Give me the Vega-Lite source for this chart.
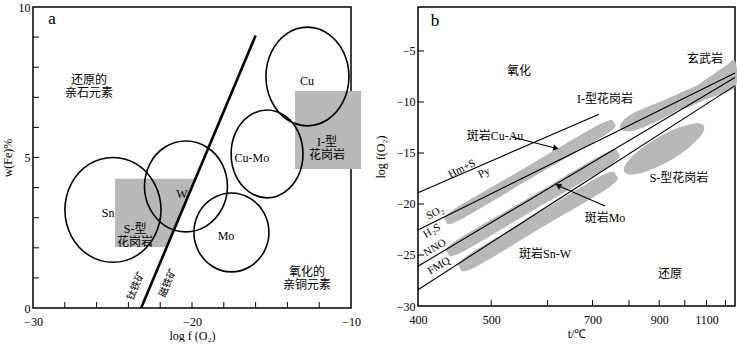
{
  "$schema": "https://vega.github.io/schema/vega-lite/v6.json",
  "background": "white",
  "padding": {"left": 0, "top": 0, "right": 0, "bottom": 0},
  "spacing": 11,
  "config": {
    "font": "Liberation Serif",
    "view": {"stroke": "black", "strokeWidth": 1.5},
    "axis": {
      "domain": false, "grid": false, "ticks": false,
      "labelPadding": 3, "labelOverlap": false, "labelBound": false, "labelFlush": false,
      "labelFont": "Liberation Serif", "labelFontSize": 12, "labelColor": "black",
      "titleFont": "Liberation Serif", "titleFontSize": 12, "titleFontWeight": "normal", "titleColor": "black"
    },
    "text": {"font": "Liberation Serif, Noto Sans CJK SC", "fontSize": 12, "color": "black", "lineBreak": "\n", "lineHeight": 13}
  },
  "hconcat": [
    {
      "width": 318, "height": 301,
      "layer": [
        {
          "data": {"values": [{"x": -13.52, "x2": -9.37, "y": 4.62, "y2": 7.21}]},
          "mark": {"type": "rect", "color": "#b8b8b8"},
          "encoding": {
            "x": {"field": "x", "type": "quantitative", "scale": {"domain": [-30, -10], "nice": false, "zero": false},
                  "axis": {"title": "log f (O₂)", "values": [-30, -20, -10], "labelPadding": 8, "titlePadding": 3}},
            "x2": {"field": "x2"},
            "y": {"field": "y", "type": "quantitative", "scale": {"domain": [0, 10], "nice": false, "zero": false},
                  "axis": {"title": "w(Fe)%", "values": [0, 5, 10], "titlePadding": 4}},
            "y2": {"field": "y2"}
          }
        },
        {
          "data": {"values": [{"y": 2.03, "x": -24.84, "x2": -21.57}, {"y": 4.29, "x": -24.84, "x2": -19.81}]},
          "mark": {"type": "area", "orient": "horizontal", "color": "#b8b8b8"},
          "encoding": {"y": {"field": "y", "type": "quantitative"}, "x": {"field": "x", "type": "quantitative"}, "x2": {"field": "x2"}}
        },
        {
          "data": {"values": [{"x": -28, "y": 0}, {"x": -26, "y": 0}, {"x": -24, "y": 0}, {"x": -22, "y": 0}, {"x": -20, "y": 0}, {"x": -18, "y": 0}, {"x": -16, "y": 0}, {"x": -14, "y": 0}, {"x": -12, "y": 0}]},
          "mark": {"type": "tick", "orient": "vertical", "size": 6, "thickness": 1, "yOffset": -3, "color": "black", "opacity": 1},
          "encoding": {"x": {"field": "x", "type": "quantitative"}, "y": {"field": "y", "type": "quantitative"}}
        },
        {
          "data": {"values": [{"x": -30, "y": 1}, {"x": -30, "y": 2}, {"x": -30, "y": 3}, {"x": -30, "y": 4}, {"x": -30, "y": 5}, {"x": -30, "y": 6}, {"x": -30, "y": 7}, {"x": -30, "y": 8}, {"x": -30, "y": 9}]},
          "mark": {"type": "tick", "orient": "horizontal", "size": 6, "thickness": 1, "xOffset": 3, "color": "black", "opacity": 1},
          "encoding": {"x": {"field": "x", "type": "quantitative"}, "y": {"field": "y", "type": "quantitative"}}
        },
        {
          "data": {"values": [
            {"name": "Sn", "i": 0, "x": -21.95, "y": 3.26}, {"name": "Sn", "i": 1, "x": -22.36, "y": 4.13}, {"name": "Sn", "i": 2, "x": -23.46, "y": 4.77}, {"name": "Sn", "i": 3, "x": -24.97, "y": 5.00}, {"name": "Sn", "i": 4, "x": -26.48, "y": 4.77}, {"name": "Sn", "i": 5, "x": -27.59, "y": 4.13}, {"name": "Sn", "i": 6, "x": -27.99, "y": 3.26}, {"name": "Sn", "i": 7, "x": -27.59, "y": 2.39}, {"name": "Sn", "i": 8, "x": -26.48, "y": 1.75}, {"name": "Sn", "i": 9, "x": -24.97, "y": 1.52}, {"name": "Sn", "i": 10, "x": -23.46, "y": 1.75}, {"name": "Sn", "i": 11, "x": -22.36, "y": 2.39},
            {"name": "W", "i": 0, "x": -17.77, "y": 4.04}, {"name": "W", "i": 1, "x": -18.12, "y": 4.80}, {"name": "W", "i": 2, "x": -19.08, "y": 5.35}, {"name": "W", "i": 3, "x": -20.38, "y": 5.55}, {"name": "W", "i": 4, "x": -21.69, "y": 5.35}, {"name": "W", "i": 5, "x": -22.64, "y": 4.80}, {"name": "W", "i": 6, "x": -22.99, "y": 4.04}, {"name": "W", "i": 7, "x": -22.64, "y": 3.29}, {"name": "W", "i": 8, "x": -21.69, "y": 2.73}, {"name": "W", "i": 9, "x": -20.38, "y": 2.53}, {"name": "W", "i": 10, "x": -19.08, "y": 2.73}, {"name": "W", "i": 11, "x": -18.12, "y": 3.29},
            {"name": "Mo", "i": 0, "x": -15.16, "y": 2.51}, {"name": "Mo", "i": 1, "x": -15.48, "y": 3.17}, {"name": "Mo", "i": 2, "x": -16.34, "y": 3.64}, {"name": "Mo", "i": 3, "x": -17.52, "y": 3.82}, {"name": "Mo", "i": 4, "x": -18.70, "y": 3.64}, {"name": "Mo", "i": 5, "x": -19.56, "y": 3.17}, {"name": "Mo", "i": 6, "x": -19.88, "y": 2.51}, {"name": "Mo", "i": 7, "x": -19.56, "y": 1.86}, {"name": "Mo", "i": 8, "x": -18.70, "y": 1.38}, {"name": "Mo", "i": 9, "x": -17.52, "y": 1.20}, {"name": "Mo", "i": 10, "x": -16.34, "y": 1.38}, {"name": "Mo", "i": 11, "x": -15.48, "y": 1.86},
            {"name": "CuMo", "i": 0, "x": -13.02, "y": 5.12}, {"name": "CuMo", "i": 1, "x": -13.32, "y": 5.85}, {"name": "CuMo", "i": 2, "x": -14.15, "y": 6.38}, {"name": "CuMo", "i": 3, "x": -15.28, "y": 6.58}, {"name": "CuMo", "i": 4, "x": -16.41, "y": 6.38}, {"name": "CuMo", "i": 5, "x": -17.24, "y": 5.85}, {"name": "CuMo", "i": 6, "x": -17.54, "y": 5.12}, {"name": "CuMo", "i": 7, "x": -17.24, "y": 4.39}, {"name": "CuMo", "i": 8, "x": -16.41, "y": 3.86}, {"name": "CuMo", "i": 9, "x": -15.28, "y": 3.66}, {"name": "CuMo", "i": 10, "x": -14.15, "y": 3.86}, {"name": "CuMo", "i": 11, "x": -13.32, "y": 4.39},
            {"name": "Cu", "i": 0, "x": -10.13, "y": 7.69}, {"name": "Cu", "i": 1, "x": -10.48, "y": 8.51}, {"name": "Cu", "i": 2, "x": -11.44, "y": 9.11}, {"name": "Cu", "i": 3, "x": -12.74, "y": 9.33}, {"name": "Cu", "i": 4, "x": -14.05, "y": 9.11}, {"name": "Cu", "i": 5, "x": -15.00, "y": 8.51}, {"name": "Cu", "i": 6, "x": -15.35, "y": 7.69}, {"name": "Cu", "i": 7, "x": -15.00, "y": 6.87}, {"name": "Cu", "i": 8, "x": -14.05, "y": 6.27}, {"name": "Cu", "i": 9, "x": -12.74, "y": 6.05}, {"name": "Cu", "i": 10, "x": -11.44, "y": 6.27}, {"name": "Cu", "i": 11, "x": -10.48, "y": 6.87}
          ]},
          "mark": {"type": "line", "interpolate": "cardinal-closed", "color": "black", "strokeWidth": 1.6},
          "encoding": {"x": {"field": "x", "type": "quantitative"}, "y": {"field": "y", "type": "quantitative"}, "detail": {"field": "name"}, "order": {"field": "i", "type": "quantitative"}}
        },
        {
          "data": {"values": [{"x": -23.2, "y": 0}, {"x": -16.0, "y": 9.05}]},
          "mark": {"type": "line", "color": "black", "strokeWidth": 2.6},
          "encoding": {"x": {"field": "x", "type": "quantitative"}, "y": {"field": "y", "type": "quantitative"}}
        },
        {
          "data": {"values": [
            {"text": "还原的\n亲石元素", "x": -26.48, "y": 7.57},
            {"text": "Cu", "x": -12.77, "y": 7.54},
            {"text": "I-型\n花岗岩", "x": -11.51, "y": 5.51},
            {"text": "Cu-Mo", "x": -16.23, "y": 4.98},
            {"text": "Sn", "x": -25.28, "y": 3.16},
            {"text": "S-型\n花岗岩", "x": -23.58, "y": 2.62},
            {"text": "W", "x": -20.63, "y": 3.79},
            {"text": "Mo", "x": -17.86, "y": 2.39},
            {"text": "氧化的\n亲铜元素", "x": -12.77, "y": 1.2}
          ]},
          "mark": {"type": "text"},
          "encoding": {"x": {"field": "x", "type": "quantitative"}, "y": {"field": "y", "type": "quantitative"}, "text": {"field": "text"}}
        },
        {
          "data": {"values": [{"text": "钛铁矿", "x": -23.52, "y": 0.73}, {"text": "磁铁矿", "x": -21.51, "y": 0.83}]},
          "mark": {"type": "text", "angle": -67, "fontSize": 10},
          "encoding": {"x": {"field": "x", "type": "quantitative"}, "y": {"field": "y", "type": "quantitative"}, "text": {"field": "text"}}
        },
        {
          "data": {"values": [{"text": "a", "x": -28.8, "y": 9.6}]},
          "mark": {"type": "text", "fontSize": 17},
          "encoding": {"x": {"field": "x", "type": "quantitative"}, "y": {"field": "y", "type": "quantitative"}, "text": {"field": "text"}}
        }
      ]
    },
    {
      "width": 317, "height": 299,
      "layer": [
        {
          "data": {"values": [
            {"name": "CuAu", "i": 0, "T": 708.2, "v": -21.67}, {"name": "CuAu", "i": 1, "T": 718.0, "v": -20.57}, {"name": "CuAu", "i": 2, "T": 833.3, "v": -16.36}, {"name": "CuAu", "i": 3, "T": 992.7, "v": -12.17}, {"name": "CuAu", "i": 4, "T": 1029.7, "v": -12.06}, {"name": "CuAu", "i": 5, "T": 1008.4, "v": -13.19}, {"name": "CuAu", "i": 6, "T": 844.4, "v": -17.38}, {"name": "CuAu", "i": 7, "T": 726.3, "v": -21.59},
            {"name": "Mo", "i": 0, "T": 710.8, "v": -24.80}, {"name": "Mo", "i": 1, "T": 720.2, "v": -23.66}, {"name": "Mo", "i": 2, "T": 838.6, "v": -19.35}, {"name": "Mo", "i": 3, "T": 1003.4, "v": -15.05}, {"name": "Mo", "i": 4, "T": 1040.9, "v": -15.00}, {"name": "Mo", "i": 5, "T": 1021.1, "v": -16.15}, {"name": "Mo", "i": 6, "T": 851.0, "v": -20.45}, {"name": "Mo", "i": 7, "T": 729.3, "v": -24.75},
            {"name": "SnW", "i": 0, "T": 727.1, "v": -26.27}, {"name": "SnW", "i": 1, "T": 736.5, "v": -25.09}, {"name": "SnW", "i": 2, "T": 847.4, "v": -21.13}, {"name": "SnW", "i": 3, "T": 997.6, "v": -17.18}, {"name": "SnW", "i": 4, "T": 1035.3, "v": -17.16}, {"name": "SnW", "i": 5, "T": 1016.8, "v": -18.35}, {"name": "SnW", "i": 6, "T": 861.2, "v": -22.30}, {"name": "SnW", "i": 7, "T": 746.9, "v": -26.26},
            {"name": "IType", "i": 0, "T": 1046.7, "v": -12.45}, {"name": "IType", "i": 1, "T": 1076.2, "v": -11.27}, {"name": "IType", "i": 2, "T": 1183.2, "v": -9.90}, {"name": "IType", "i": 3, "T": 1313.7, "v": -8.53}, {"name": "IType", "i": 4, "T": 1375.4, "v": -8.33}, {"name": "IType", "i": 5, "T": 1341.5, "v": -9.31}, {"name": "IType", "i": 6, "T": 1198.1, "v": -11.47}, {"name": "IType", "i": 7, "T": 1082.3, "v": -12.84},
            {"name": "Basalt", "i": 0, "T": 1213.3, "v": -10.20}, {"name": "Basalt", "i": 1, "T": 1304.7, "v": -8.73}, {"name": "Basalt", "i": 2, "T": 1465.3, "v": -6.57}, {"name": "Basalt", "i": 3, "T": 1530, "v": -5.98}, {"name": "Basalt", "i": 4, "T": 1530, "v": -8.53}, {"name": "Basalt", "i": 5, "T": 1375.4, "v": -9.71}, {"name": "Basalt", "i": 6, "T": 1261.5, "v": -10.69},
            {"name": "SType", "i": 0, "T": 1359.7, "v": -12.34}, {"name": "SType", "i": 1, "T": 1319.2, "v": -12.10}, {"name": "SType", "i": 2, "T": 1246.3, "v": -12.53}, {"name": "SType", "i": 3, "T": 1166.9, "v": -13.51}, {"name": "SType", "i": 4, "T": 1102.7, "v": -14.79}, {"name": "SType", "i": 5, "T": 1065.1, "v": -16.02}, {"name": "SType", "i": 6, "T": 1058.9, "v": -16.87}, {"name": "SType", "i": 7, "T": 1084.8, "v": -17.12}, {"name": "SType", "i": 8, "T": 1139.7, "v": -16.70}, {"name": "SType", "i": 9, "T": 1215.3, "v": -15.71}, {"name": "SType", "i": 10, "T": 1293.7, "v": -14.43}, {"name": "SType", "i": 11, "T": 1350.0, "v": -13.20}
          ]},
          "mark": {"type": "line", "interpolate": "cardinal-closed", "fill": "#b8b8b8", "stroke": null, "strokeWidth": 0},
          "encoding": {
            "x": {"field": "T", "type": "quantitative", "scale": {"type": "pow", "exponent": -1, "domain": [673.15, 1530], "nice": false, "zero": false},
                  "axis": {"title": "t/℃", "values": [673.15, 773.15, 973.15, 1173.15, 1373.15], "labelExpr": "'' + round(datum.value - 273.15)", "labelPadding": 8, "titlePadding": 3}},
            "y": {"field": "v", "type": "quantitative", "scale": {"domain": [-30, -0.69], "nice": false, "zero": false},
                  "axis": {"title": "log f(O₂)", "values": [-30, -25, -20, -15, -10, -5], "titlePadding": 9}},
            "detail": {"field": "name"},
            "order": {"field": "i", "type": "quantitative"}
          }
        },
        {
          "data": {"values": [{"T": 773.15, "v": -30}, {"T": 873.15, "v": -30}, {"T": 973.15, "v": -30}, {"T": 1073.15, "v": -30}, {"T": 1173.15, "v": -30}, {"T": 1273.15, "v": -30}, {"T": 1373.15, "v": -30}, {"T": 1473.15, "v": -30}]},
          "mark": {"type": "tick", "orient": "vertical", "size": 6, "thickness": 1, "yOffset": -3, "color": "black", "opacity": 1},
          "encoding": {"x": {"field": "T", "type": "quantitative"}, "y": {"field": "v", "type": "quantitative"}}
        },
        {
          "data": {"values": [{"T": 673.15, "v": -25}, {"T": 673.15, "v": -20}, {"T": 673.15, "v": -15}, {"T": 673.15, "v": -10}, {"T": 673.15, "v": -5}]},
          "mark": {"type": "tick", "orient": "horizontal", "size": 6, "thickness": 1, "xOffset": 3, "color": "black", "opacity": 1},
          "encoding": {"x": {"field": "T", "type": "quantitative"}, "y": {"field": "v", "type": "quantitative"}}
        },
        {
          "data": {"values": [
            {"name": "Hm", "T": 673.15, "v": -18.9}, {"name": "Hm", "T": 989.6, "v": -11.2},
            {"name": "SO2", "T": 673.15, "v": -22.55}, {"name": "SO2", "T": 1530, "v": -7.15},
            {"name": "NNO", "T": 673.15, "v": -26.1}, {"name": "NNO", "T": 1530, "v": -7.6},
            {"name": "FMQ", "T": 673.15, "v": -28.4}, {"name": "FMQ", "T": 1530, "v": -8.4}
          ]},
          "mark": {"type": "line", "color": "black", "strokeWidth": 1.1},
          "encoding": {"x": {"field": "T", "type": "quantitative"}, "y": {"field": "v", "type": "quantitative"}, "detail": {"field": "name"}}
        },
        {
          "data": {"values": [{"T": 807.2, "v": -13.43, "T2": 888.1, "v2": -14.51}, {"T": 1005.2, "v": -20.20, "T2": 896.4, "v2": -18.24}]},
          "mark": {"type": "rule", "color": "black", "strokeWidth": 1.1},
          "encoding": {"x": {"field": "T", "type": "quantitative"}, "y": {"field": "v", "type": "quantitative"}, "x2": {"field": "T2"}, "y2": {"field": "v2"}}
        },
        {
          "data": {"values": [{"T": 888.1, "v": -14.51}]},
          "mark": {"type": "point", "shape": "triangle", "filled": true, "color": "black", "size": 40, "angle": 103, "opacity": 1},
          "encoding": {"x": {"field": "T", "type": "quantitative"}, "y": {"field": "v", "type": "quantitative"}}
        },
        {
          "data": {"values": [{"T": 896.4, "v": -18.24}]},
          "mark": {"type": "point", "shape": "triangle", "filled": true, "color": "black", "size": 40, "angle": 298, "opacity": 1},
          "encoding": {"x": {"field": "T", "type": "quantitative"}, "y": {"field": "v", "type": "quantitative"}}
        },
        {
          "data": {"values": [
            {"text": "氧化", "T": 819.3, "v": -6.96},
            {"text": "玄武岩", "T": 1365.5, "v": -5.78},
            {"text": "I-型花岗岩", "T": 1005.2, "v": -9.71},
            {"text": "斑岩Cu-Au", "T": 779.1, "v": -13.33},
            {"text": "斑岩Mo", "T": 1005.2, "v": -21.37},
            {"text": "S-型花岗岩", "T": 1249.1, "v": -17.45},
            {"text": "斑岩Sn-W", "T": 867.9, "v": -24.90},
            {"text": "还原", "T": 1213.3, "v": -26.86}
          ]},
          "mark": {"type": "text"},
          "encoding": {"x": {"field": "T", "type": "quantitative"}, "y": {"field": "v", "type": "quantitative"}, "text": {"field": "text"}}
        },
        {
          "data": {"values": [{"text": "Hm+S", "T": 729.9, "v": -16.57}, {"text": "Py", "T": 762.0, "v": -16.96}, {"text": "SO₂", "T": 694.0, "v": -20.88}]},
          "mark": {"type": "text", "angle": -27, "fontSize": 11},
          "encoding": {"x": {"field": "T", "type": "quantitative"}, "y": {"field": "v", "type": "quantitative"}, "text": {"field": "text"}}
        },
        {
          "data": {"values": [{"text": "H₂S", "T": 690.2, "v": -22.65}, {"text": "NNO", "T": 694.0, "v": -24.31}, {"text": "FMQ", "T": 699.1, "v": -26.08}]},
          "mark": {"type": "text", "angle": -31, "fontSize": 11},
          "encoding": {"x": {"field": "T", "type": "quantitative"}, "y": {"field": "v", "type": "quantitative"}, "text": {"field": "text"}}
        },
        {
          "data": {"values": [{"text": "b", "T": 694.0, "v": -2.06}]},
          "mark": {"type": "text", "fontSize": 17},
          "encoding": {"x": {"field": "T", "type": "quantitative"}, "y": {"field": "v", "type": "quantitative"}, "text": {"field": "text"}}
        }
      ]
    }
  ]
}
